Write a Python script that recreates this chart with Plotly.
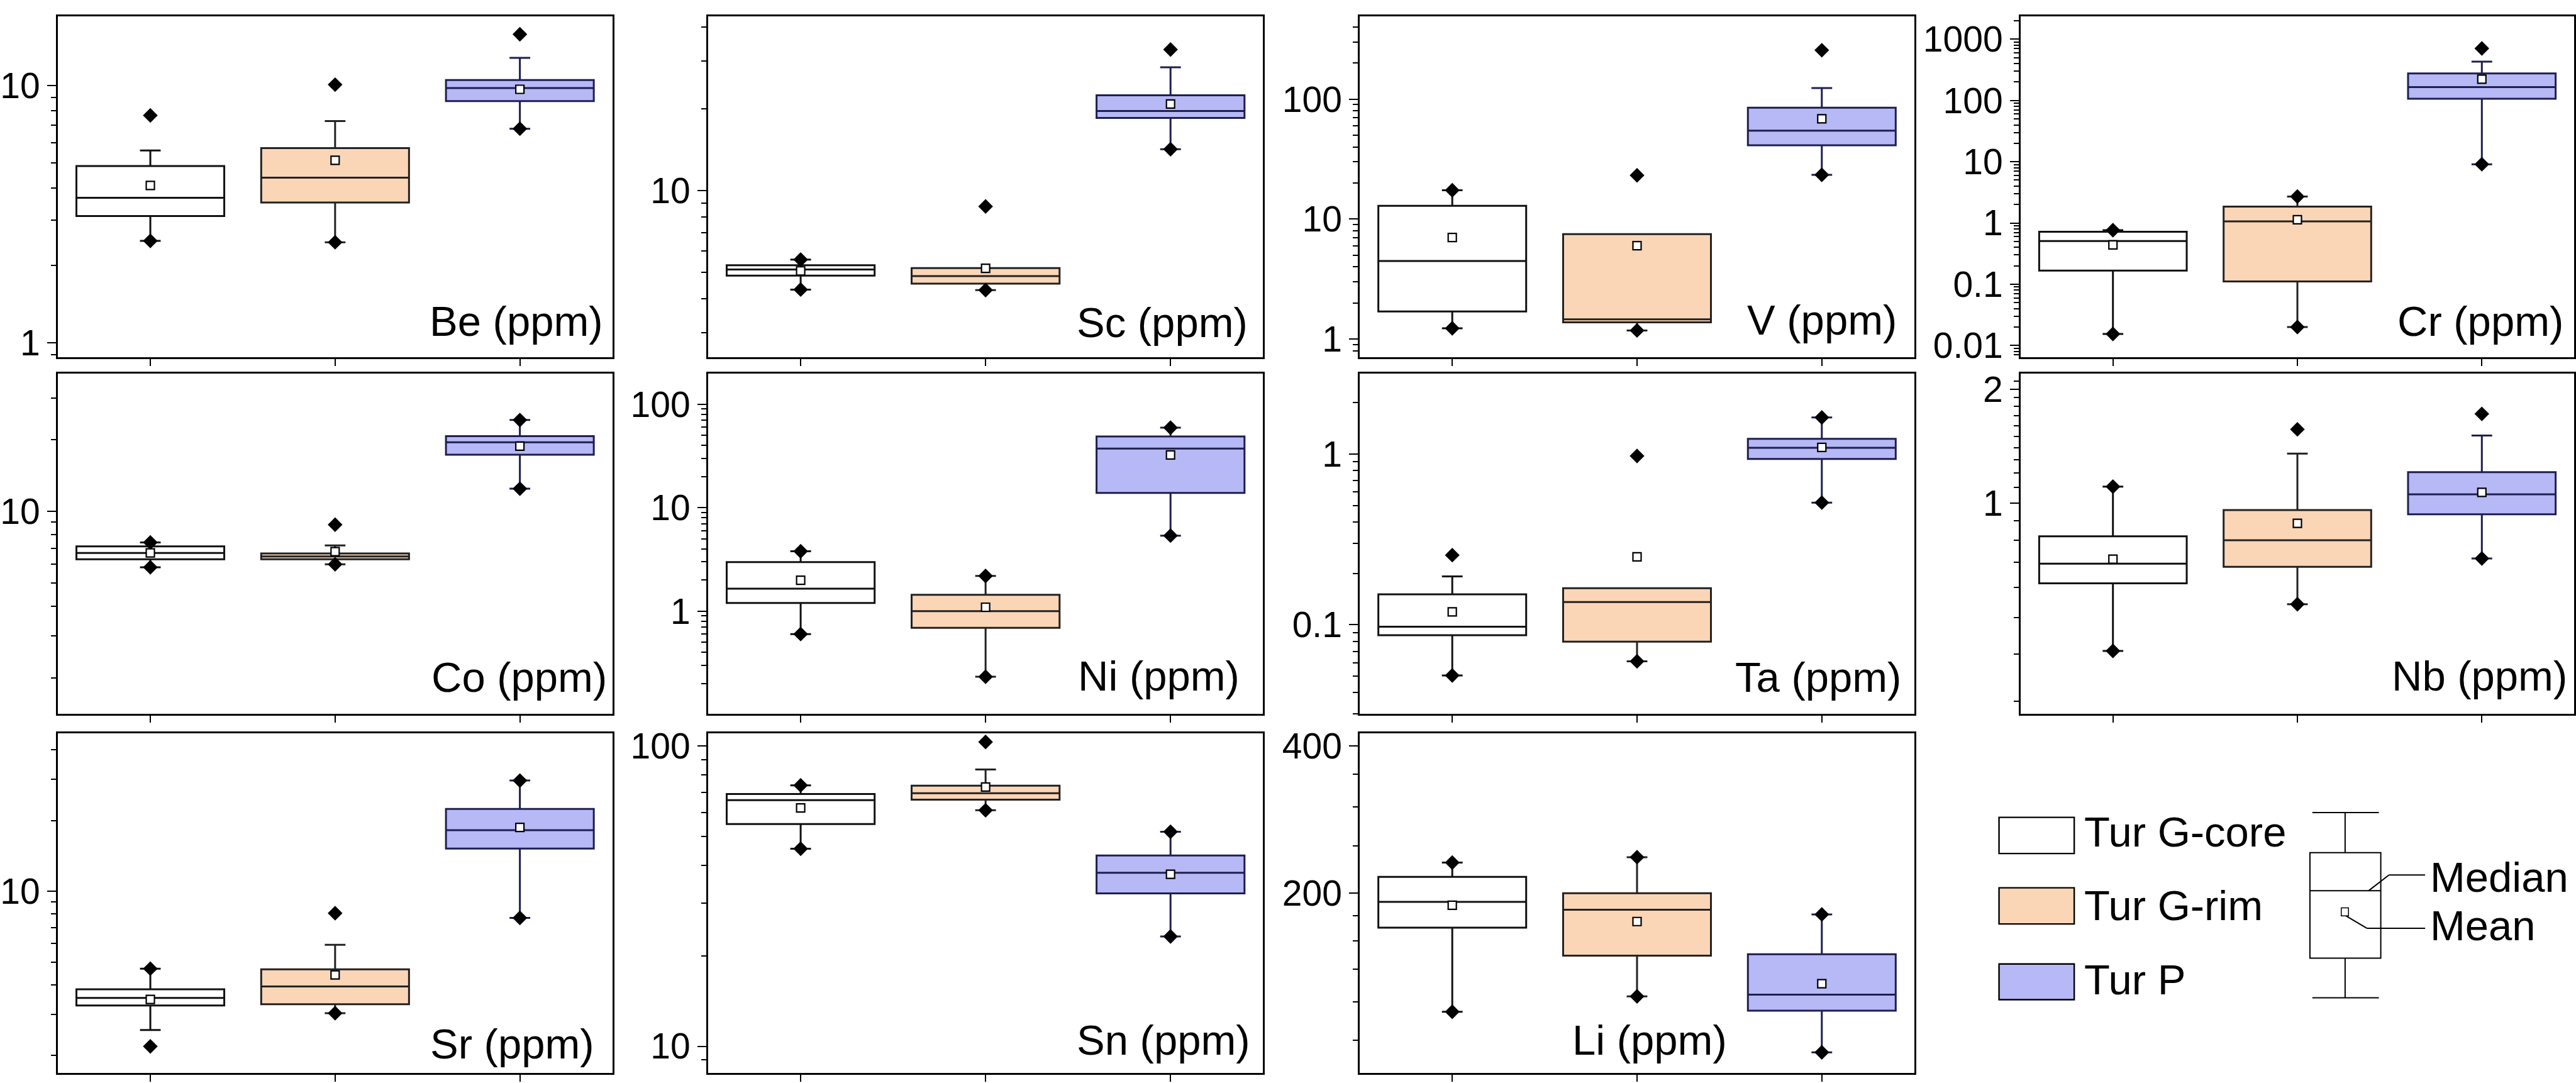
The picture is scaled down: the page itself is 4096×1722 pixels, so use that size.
import math
import plotly.graph_objects as go

# ---------------- data ----------------
groups = ["Tur G-core", "Tur G-rim", "Tur P"]
positions = [0, 1, 2]

# Be (ppm)
be_lo = [2.49, 2.46, 6.79]
be_q1 = [3.11, 3.51, 8.69]
be_med = [3.66, 4.38, 9.77]
be_q3 = [4.86, 5.71, 10.5]
be_hi = [5.59, 7.27, 12.8]
be_mean = [4.09, 5.12, 9.66]
be_min = [2.49, 2.46, 6.79]
be_max = [7.65, 10.07, 15.8]

# Sc (ppm)
sc_lo = [4.33, 4.31, 14.2]
sc_q1 = [4.87, 4.55, 18.5]
sc_med = [5.13, 4.85, 19.6]
sc_q3 = [5.32, 5.19, 22.4]
sc_hi = [5.58, 5.19, 28.4]
sc_mean = [5.07, 5.18, 20.8]
sc_min = [4.33, 4.31, 14.2]
sc_max = [5.58, 8.75, 33.0]

# V (ppm)
v_lo = [1.23, 1.18, 23.4]
v_q1 = [1.70, 1.38, 41.3]
v_med = [4.47, 1.46, 54.6]
v_q3 = [12.9, 7.50, 85.0]
v_hi = [17.4, 7.50, 124.0]
v_mean = [7.02, 6.01, 68.7]
v_min = [1.23, 1.18, 23.4]
v_max = [17.4, 23.2, 256.0]

# Cr (ppm)
cr_lo = [0.0154, 0.020, 9.1]
cr_q1 = [0.167, 0.111, 107.0]
cr_med = [0.507, 1.06, 165.0]
cr_q3 = [0.717, 1.85, 277.0]
cr_hi = [0.762, 2.70, 431.0]
cr_mean = [0.438, 1.13, 223.0]
cr_min = [0.0154, 0.020, 9.1]
cr_max = [0.762, 2.70, 707.0]

# Co (ppm)
co_lo = [5.82, 5.99, 12.45]
co_q1 = [6.29, 6.29, 17.3]
co_med = [6.69, 6.47, 19.5]
co_q3 = [7.13, 6.66, 20.7]
co_hi = [7.40, 7.19, 24.2]
co_mean = [6.69, 6.77, 18.8]
co_min = [5.82, 5.99, 12.45]
co_max = [7.40, 8.79, 24.2]

# Ni (ppm)
ni_lo = [0.600, 0.232, 5.37]
ni_q1 = [1.20, 0.689, 13.9]
ni_med = [1.65, 1.00, 37.3]
ni_q3 = [2.98, 1.44, 48.8]
ni_hi = [3.79, 2.19, 59.4]
ni_mean = [1.99, 1.09, 32.4]
ni_min = [0.600, 0.232, 5.37]
ni_max = [3.79, 2.19, 59.4]

# Ta (ppm)
ta_lo = [0.0505, 0.0611, 0.520]
ta_q1 = [0.0869, 0.0797, 0.937]
ta_med = [0.0975, 0.136, 1.088]
ta_q3 = [0.151, 0.164, 1.23]
ta_hi = [0.192, 0.164, 1.64]
ta_mean = [0.119, 0.25, 1.094]
ta_min = [0.0505, 0.0611, 0.520]
ta_max = [0.256, 0.975, 1.64]

# Nb (ppm)
nb_lo = [0.408, 0.5415, 0.715]
nb_q1 = [0.615, 0.680, 0.935]
nb_med = [0.693, 0.799, 1.055]
nb_q3 = [0.818, 0.959, 1.208]
nb_hi = [1.106, 1.352, 1.508]
nb_mean = [0.712, 0.885, 1.068]
nb_min = [0.408, 0.5415, 0.715]
nb_max = [1.106, 1.566, 1.72]

# Sr (ppm)
sr_lo = [2.57, 3.03, 7.71]
sr_q1 = [3.27, 3.31, 15.2]
sr_med = [3.52, 3.94, 18.2]
sr_q3 = [3.83, 4.66, 22.4]
sr_hi = [4.69, 5.92, 29.6]
sr_mean = [3.47, 4.41, 18.7]
sr_min = [2.19, 3.03, 7.71]
sr_max = [4.69, 8.07, 29.6]

# Sn (ppm)
sn_lo = [45.5, 61.1, 23.2]
sn_q1 = [55.0, 66.3, 32.3]
sn_med = [66.0, 69.6, 37.8]
sn_q3 = [69.2, 73.8, 43.2]
sn_hi = [74.0, 83.5, 51.8]
sn_mean = [62.2, 73.0, 37.4]
sn_min = [45.5, 61.1, 23.2]
sn_max = [74.0, 103.2, 51.8]

# Li (ppm)
li_lo = [114.4, 123.0, 94.5]
li_q1 = [170.0, 149.0, 115.0]
li_med = [192.0, 185.0, 124.0]
li_q3 = [216.0, 200.0, 150.0]
li_hi = [231.0, 237.0, 181.0]
li_mean = [189.0, 175.0, 130.6]
li_min = [114.4, 123.0, 94.5]
li_max = [231.0, 237.0, 181.0]

panel_labels = ["Be (ppm)", "Sc (ppm)", "V (ppm)", "Cr (ppm)",
                "Co (ppm)", "Ni (ppm)", "Ta (ppm)", "Nb (ppm)",
                "Sr (ppm)", "Sn (ppm)", "Li (ppm)"]

be_ticks = [1, 10]
sc_ticks = [10]
v_ticks = [1, 10, 100]
cr_ticks = [0.01, 0.1, 1, 10, 100, 1000]
co_ticks = [10]
ni_ticks = [0.1, 1, 10, 100]
ta_ticks = [0.1, 1]
nb_ticks = [1, 2]
sr_ticks = [10]
sn_ticks = [10, 100]
li_ticks = [200, 400]

# ---------------- layout constants (reference pixel frame) ----------------
W_REF, H_REF = 5339, 2244
W, H = 4096, 1722

FONT = "Liberation Sans, Arial, sans-serif"
fills = ["#FFFFFF", "#FBD6B6", "#B6B9F5"]
edges = ["#111111", "#222222", "#1E1E50"]

COLS = [(115, 1265), (1464, 2615), (2816, 3966), (4187, 5335)]
ROWS = [(20, 736), (770, 1486), (1526, 2240)]


def px(x):
    return x / W_REF


def py(y):
    return 1 - y / H_REF


def log_minor(lo, hi):
    vals = []
    for d in range(math.floor(lo) - 1, math.ceil(hi) + 1):
        for m in range(2, 10):
            v = m * 10 ** d
            if lo <= math.log10(v) <= hi:
                vals.append(v)
    return vals


def fmt(v):
    return "%g" % v


panels = [
    # stats, col, row, log-range, ticks, label anchor (x, y, xanchor)
    ((be_lo, be_q1, be_med, be_q3, be_hi, be_mean, be_min, be_max), 0, 0, (-0.0555, 1.268), be_ticks, (1248, 660, "right")),
    ((sc_lo, sc_q1, sc_med, sc_q3, sc_hi, sc_mean, sc_min, sc_max), 1, 0, (0.388, 1.640), sc_ticks, (2586, 663, "right")),
    ((v_lo, v_q1, v_med, v_q3, v_hi, v_mean, v_min, v_max), 2, 0, (-0.151, 2.690), v_ticks, (3933, 657, "right")),
    ((cr_lo, cr_q1, cr_med, cr_q3, cr_hi, cr_mean, cr_min, cr_max), 3, 0, (-2.191, 3.372), cr_ticks, (5315, 660, "right")),
    ((co_lo, co_q1, co_med, co_q3, co_hi, co_mean, co_min, co_max), 0, 1, (0.148, 1.58), co_ticks, (1256, 1408, "right")),
    ((ni_lo, ni_q1, ni_med, ni_q3, ni_hi, ni_mean, ni_min, ni_max), 1, 1, (-0.996, 2.299), ni_ticks, (2569, 1405, "right")),
    ((ta_lo, ta_q1, ta_med, ta_q3, ta_hi, ta_mean, ta_min, ta_max), 2, 1, (-1.523, 0.473), ta_ticks, (3942, 1408, "right")),
    ((nb_lo, nb_q1, nb_med, nb_q3, nb_hi, nb_mean, nb_min, nb_max), 3, 1, (-0.556, 0.3424), nb_ticks, (5323, 1406, "right")),
    ((sr_lo, sr_q1, sr_med, sr_q3, sr_hi, sr_mean, sr_min, sr_max), 0, 2, (0.2275, 1.673), sr_ticks, (1231, 2178, "right")),
    ((sn_lo, sn_q1, sn_med, sn_q3, sn_hi, sn_mean, sn_min, sn_max), 1, 2, (0.911, 2.043), sn_ticks, (2591, 2170, "right")),
    ((li_lo, li_q1, li_med, li_q3, li_hi, li_mean, li_min, li_max), 2, 2, (1.9334, 2.6284), li_ticks, (3417, 2170, "center")),
]

minor_custom = {
    7: [0.3, 0.4, 0.5, 0.6, 0.7, 0.8, 0.9, 1.1, 1.2, 1.3, 1.4, 1.5, 1.6, 1.7, 1.8, 1.9, 2.1],
    10: [100, 120, 140, 160, 180, 250, 300, 350],
}

fig = go.Figure()
layout_axes = {}
annotations = []

LW = 3.0
for i, (stats, c, r, yr, ticks, lab) in enumerate(panels):
    k = i + 1
    xname = "x" if k == 1 else "x%d" % k
    yname = "y" if k == 1 else "y%d" % k
    lo, q1, med, q3, hi, mean, mn, mx = stats
    for g in range(3):
        fig.add_trace(go.Box(
            x=[positions[g]], q1=[q1[g]], median=[med[g]], q3=[q3[g]],
            lowerfence=[lo[g]], upperfence=[hi[g]],
            width=0.8, whiskerwidth=0.14, boxpoints=False,
            fillcolor=fills[g], line=dict(color=edges[g], width=LW),
            name=groups[g], showlegend=False, hoverinfo="skip",
            xaxis=xname, yaxis=yname))
    fig.add_trace(go.Scatter(
        x=positions + positions, y=list(mn) + list(mx), mode="markers",
        marker=dict(symbol="diamond", size=18, color="black", line=dict(width=0)),
        showlegend=False, hoverinfo="skip", xaxis=xname, yaxis=yname))
    fig.add_trace(go.Scatter(
        x=positions, y=mean, mode="markers",
        marker=dict(symbol="square", size=13, color="white",
                    line=dict(color="black", width=2.2)),
        showlegend=False, hoverinfo="skip", xaxis=xname, yaxis=yname))

    x0, x1 = COLS[c]
    y0, y1 = ROWS[r]
    minor_vals = minor_custom.get(i, log_minor(yr[0], yr[1]))
    minor_vals = [v for v in minor_vals if v not in ticks]
    xkey = "xaxis" if k == 1 else "xaxis%d" % k
    ykey = "yaxis" if k == 1 else "yaxis%d" % k
    layout_axes[xkey] = dict(
        domain=[px(x0), px(x1)], anchor=yname, range=[-0.5, 2.5],
        showline=True, linecolor="black", linewidth=LW, mirror=True,
        ticks="outside", tickvals=positions, ticklen=11, tickwidth=2,
        tickcolor="black", showticklabels=False, showgrid=False,
        zeroline=False, fixedrange=True)
    layout_axes[ykey] = dict(
        domain=[py(y1), py(y0)], anchor=xname, type="log", range=list(yr),
        showline=True, linecolor="black", linewidth=LW, mirror=True,
        ticks="outside", tickvals=ticks, ticktext=[fmt(t) for t in ticks],
        ticklen=14, tickwidth=2, tickcolor="black",
        tickfont=dict(family=FONT, size=57, color="black"),
        showgrid=False, zeroline=False, fixedrange=True,
        minor=dict(tickmode="array", tickvals=minor_vals, ticks="outside",
                   ticklen=8, tickwidth=1.5, tickcolor="black", showgrid=False))
    annotations.append(dict(
        text=panel_labels[i], xref="paper", yref="paper",
        x=px(lab[0]), y=py(lab[1]), xanchor=lab[2], yanchor="middle",
        showarrow=False, font=dict(family=FONT, size=67, color="black")))

# ---------------- legend / key (bottom-right) ----------------
shapes = []
legend_rows = [(1703, 1779), (1851, 1927), (2011, 2086)]
legend_text_y = [1733, 1888, 2044]
for g in range(3):
    ya, yb = legend_rows[g]
    shapes.append(dict(type="rect", xref="paper", yref="paper",
                       x0=px(4142), x1=px(4298), y0=py(yb), y1=py(ya),
                       fillcolor=fills[g], line=dict(color="black", width=2.4)))
    annotations.append(dict(
        text=groups[g], xref="paper", yref="paper", x=px(4316), y=py(legend_text_y[g]),
        xanchor="left", yanchor="middle", showarrow=False,
        font=dict(family=FONT, size=67, color="black")))


def seg(xa, ya, xb, yb, w=2.0):
    return dict(type="line", xref="paper", yref="paper",
                x0=px(xa), y0=py(ya), x1=px(xb), y1=py(yb),
                line=dict(color="black", width=w))


kx = 4860
shapes += [
    seg(4792, 1693, 4930, 1693),
    seg(kx, 1693, kx, 1777),
    dict(type="rect", xref="paper", yref="paper", x0=px(4787), x1=px(4934),
         y0=py(1999), y1=py(1777), fillcolor="white", line=dict(color="black", width=2.0)),
    seg(4787, 1857, 4934, 1857),
    seg(kx, 1999, kx, 2082),
    seg(4792, 2082, 4930, 2082),
    dict(type="rect", xref="paper", yref="paper", x0=px(4852), x1=px(4867),
         y0=py(1910), y1=py(1893), fillcolor="white", line=dict(color="black", width=1.5)),
    seg(4909, 1857, 4951, 1824),
    seg(4951, 1824, 5026, 1824),
    seg(4862, 1910, 4905, 1936),
    seg(4905, 1936, 5026, 1936),
]
annotations.append(dict(text="Median", xref="paper", yref="paper", x=px(5034), y=py(1828),
                        xanchor="left", yanchor="middle", showarrow=False,
                        font=dict(family=FONT, size=67, color="black")))
annotations.append(dict(text="Mean", xref="paper", yref="paper", x=px(5034), y=py(1930),
                        xanchor="left", yanchor="middle", showarrow=False,
                        font=dict(family=FONT, size=67, color="black")))

fig.update_layout(
    width=W, height=H, autosize=False,
    margin=dict(l=0, r=0, t=0, b=0, pad=0),
    paper_bgcolor="white", plot_bgcolor="white",
    showlegend=False, boxmode="overlay",
    font=dict(family=FONT, color="black"),
    annotations=annotations, shapes=shapes,
    **layout_axes)

fig.write_html("out.html")
